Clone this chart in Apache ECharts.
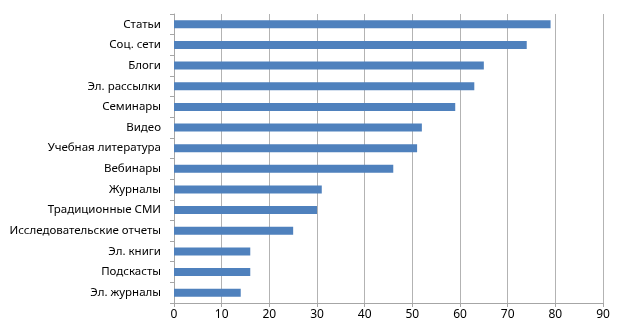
<!DOCTYPE html>
<html><head><meta charset="utf-8">
<script src="https://cdn.jsdelivr.net/npm/echarts@6/dist/echarts.min.js"></script>
<style>html,body{margin:0;padding:0;background:#fff}#c{width:625px;height:336px}</style>
</head><body><div id="c"></div>
<script>
const categories = ["Статьи","Соц. сети","Блоги","Эл. рассылки","Семинары","Видео","Учебная литература","Вебинары","Журналы","Традиционные СМИ","Исследовательские отчеты","Эл. книги","Подскасты","Эл. журналы"];
const values = [79,74,65,63,59,52,51,46,31,30,25,16,16,14];
const xTicks = [0,10,20,30,40,50,60,70,80,90];

const chart = echarts.init(document.getElementById('c'), null, {renderer:'canvas'});
chart.setOption({
  animation:false,
  backgroundColor:'#fff',
  grid:{left:174,right:22,top:14,bottom:33,containLabel:false,outerBoundsMode:'none'},
  xAxis:{
    type:'value',min:xTicks[0],max:xTicks[xTicks.length-1],interval:10,
    axisLine:{show:true,lineStyle:{color:'#a6a6a6',width:1}},
    axisTick:{show:true,length:4,lineStyle:{color:'#a6a6a6'}},
    axisLabel:{color:'#000',fontSize:12,fontFamily:'Noto Sans',margin:6},
    splitLine:{show:true,lineStyle:{color:'#b3b3b3',width:1}}
  },
  yAxis:{
    type:'category',data:categories,inverse:true,
    axisLine:{show:true,lineStyle:{color:'#a6a6a6',width:1}},
    axisTick:{show:true,length:4,inside:false,lineStyle:{color:'#a6a6a6'}},
    axisLabel:{color:'#000',fontSize:11.5,fontFamily:'Noto Sans',margin:13}
  },
  series:[{
    type:'bar',data:values,barWidth:8,
    itemStyle:{color:'#4f81bd'}
  }]
});
</script></body></html>
